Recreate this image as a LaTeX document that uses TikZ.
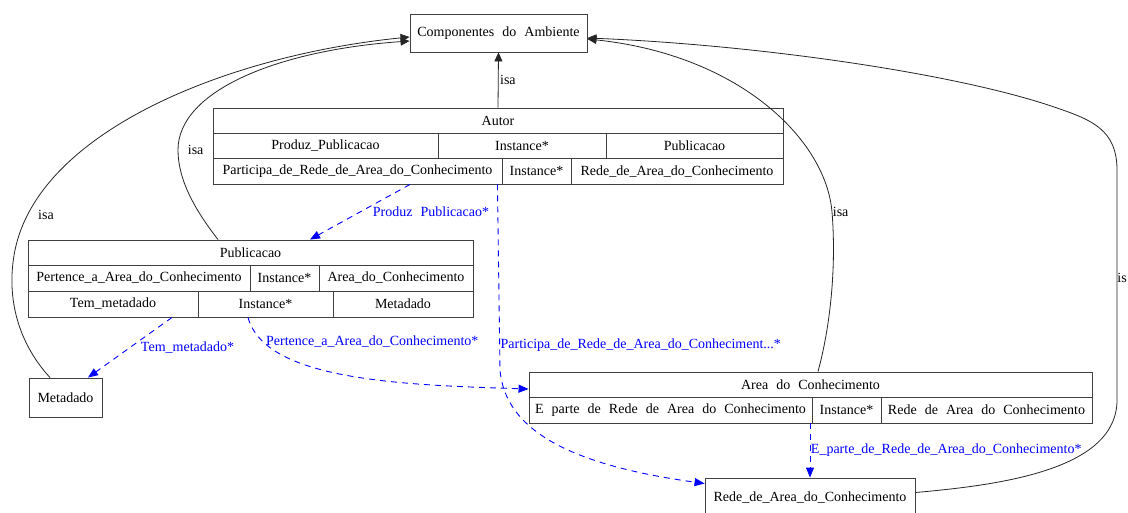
\documentclass[tikz,border=0pt]{standalone}
\usepackage{fontspec}
\setmainfont{Liberation Serif}
\newfontfamily\wsfont[WordSpace=2.3]{Liberation Serif}
\usetikzlibrary{arrows.meta}
\newcommand\cellnode[6]{\node[cellbox,minimum width={(#3)-(#2)},minimum height={(#5)-(#4)}] (#1) at ({((#2)+(#3))/2},{((#4)+(#5))/2}) {#6};}
\tikzset{
  txt/.style={font=\fontsize{14}{16}\selectfont},
  cellbox/.style={draw=black!75, line width=0.9pt, inner sep=0pt, txt},
  isaedge/.style={draw=black!85, line width=0.8pt, -{Triangle[length=9pt,width=8pt]}},
  reledge/.style={draw=blue, line width=0.9pt, dash pattern=on 6pt off 5pt, -{Triangle[length=10pt,width=8pt]}},
  isalabel/.style={txt, text=black, inner sep=0.5pt},
  rellabel/.style={txt, text=blue, inner sep=0.5pt},
}
\begin{document}
\begin{tikzpicture}[x=1pt,y=-1pt]
\useasboundingbox (0,0) rectangle (1128,513);
\clip (0,0) rectangle (1128,513);
\fill[white] (0,0) rectangle (1128,513);

% plain nodes
\cellnode{comp}{410}{587}{14}{52}{\wsfont Componentes do Ambiente}
\cellnode{meta}{29}{102}{378}{417}{Metadado}
\cellnode{rede}{705}{915}{478}{518}{Rede\_de\_Area\_do\_Conhecimento}

% Autor table
\cellnode{autT}{213}{783}{108}{133}{Autor}
\cellnode{a11}{213}{438}{133}{158.5}{Produz\_Publicacao}
\cellnode{a12}{438}{606}{133}{158.5}{Instance*}
\cellnode{a13}{606}{783}{133}{158.5}{Publicacao}
\cellnode{a21}{213}{502}{158.5}{184}{Participa\_de\_Rede\_de\_Area\_do\_Conhecimento}
\cellnode{a22}{502}{571}{158.5}{184}{Instance*}
\cellnode{a23}{571}{783}{158.5}{184}{Rede\_de\_Area\_do\_Conhecimento}

% Publicacao table
\cellnode{pubT}{28}{473}{240}{265}{Publicacao}
\cellnode{p11}{28}{250}{265}{291}{Pertence\_a\_Area\_do\_Conhecimento}
\cellnode{p12}{250}{319}{265}{291}{Instance*}
\cellnode{p13}{319}{473}{265}{291}{Area\_do\_Conhecimento}
\cellnode{p21}{28}{198}{291}{317}{Tem\_metadado}
\cellnode{p22}{198}{333}{291}{317}{Instance*}
\cellnode{p23}{333}{473}{291}{317}{Metadado}

% Area table
\cellnode{areaT}{529}{1092}{372}{397}{\wsfont Area do Conhecimento}
\cellnode{r11}{529}{812}{397}{423}{\wsfont E parte de Rede de Area do Conhecimento}
\cellnode{r12}{812}{881}{397}{423}{Instance*}
\cellnode{r13}{881}{1092}{397}{423}{\wsfont Rede de Area do Conhecimento}

% isa edges
\draw[isaedge] (autT.north) -- node[midway,right=1pt,isalabel]{isa} (comp.south);
\draw[isaedge] ([xshift=-32.5]pubT.north) .. controls (195,210) and (178,180) .. (178,150) node[right=9pt,isalabel]{isa}
  .. controls (178,90) and (280,50) .. ([yshift=-8]comp.west);
\draw[isaedge] ([xshift=-15.5]meta.north) .. controls (20,345) and (5,300) .. (15,250)
  .. controls (40,130) and (230,55) .. node[pos=0.1,right=10pt,isalabel]{isa} ([yshift=-4]comp.west);
\draw[isaedge] ([xshift=7.5]areaT.north) .. controls (832,320) and (836,260) .. (832,212) node[right=0pt,isalabel]{isa}
  .. controls (826,140) and (740,55) .. ([yshift=-6]comp.east);
\draw[isaedge] ([yshift=5.5]rede.east) .. controls (1000,485) and (1117,470) .. (1117,400)
  -- node[pos=0.53,right=0pt,isalabel,inner sep=0pt]{is} (1117,170)
  .. controls (1117,130) and (1092,120) .. (1057,108)
  .. controls (960,74) and (760,45) .. ([yshift=-5]comp.east);

% relation edges
\draw[reledge] ([xshift=52.5]a21.south) -- node[midway,right=12pt,rellabel]{\wsfont Produz Publicacao*} ([xshift=59.5]pubT.north);
\draw[reledge] ([xshift=-5]a21.south east) -- node[pos=0.866,anchor=west,rellabel]{Participa\_de\_Rede\_de\_Area\_do\_Conheciment...*} (500,370)
  .. controls (505,430) and (570,465) .. ([yshift=14.5]rede.west);
\draw[reledge] ([xshift=59]p21.south) -- node[midway,right=10pt,rellabel]{Tem\_metadado*} ([xshift=22.5]meta.north);
\draw[reledge] ([xshift=-17.5]p22.south) .. controls (265,380) and (400,385) .. node[pos=0.15,anchor=west,xshift=2pt,rellabel]{Pertence\_a\_Area\_do\_Conhecimento*} ([yshift=-4.5]areaT.west);
\draw[reledge] (rede.north |- r11.south) -- node[midway,anchor=west,rellabel]{E\_parte\_de\_Rede\_de\_Area\_do\_Conhecimento*} (rede.north);
\end{tikzpicture}
\end{document}
